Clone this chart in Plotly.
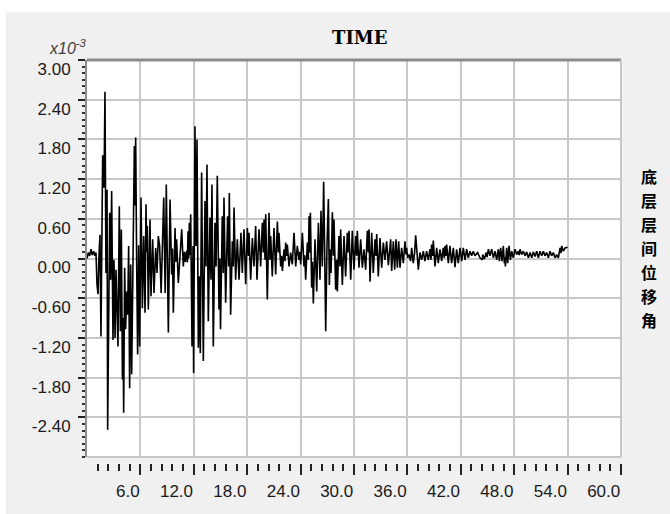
import plotly.graph_objects as go

# ---- data (time in s, inter-storey drift angle in units of 1e-3) ----
time_s = [
    0.00, 0.15, 0.30, 0.45, 0.60, 0.75, 0.90, 1.01, 1.12, 1.24, 1.35, 1.46, 1.57, 1.69, 1.76, 1.91, 2.02, 2.13, 2.25, 2.32,
    2.43, 2.55, 2.66, 2.77, 2.92, 3.03, 3.15, 3.26, 3.48, 3.63, 3.75, 3.86, 3.98, 4.04, 4.12, 4.23, 4.34, 4.46, 4.57, 4.68,
    4.79, 4.91, 5.02, 5.17, 5.32, 5.39, 5.47, 5.58, 5.69, 5.80, 5.92, 6.07, 6.22, 6.37, 6.52, 6.63, 6.70, 6.78, 6.89, 7.08,
    7.19, 7.38, 7.53, 7.72, 7.87, 8.01, 8.16, 8.33, 8.62, 8.78, 8.91, 9.14, 9.33, 9.51, 9.60, 9.70, 9.89, 9.98, 10.07, 10.26,
    10.64, 10.82, 10.95, 11.05, 11.20, 11.28, 11.35, 11.43, 11.50, 11.58, 11.65, 11.80, 11.91, 11.98, 12.13, 12.25, 12.36, 12.51, 12.62, 12.73,
    12.88, 13.07, 13.26, 13.37, 13.48, 13.63, 13.82, 13.93, 14.04, 14.19, 14.38, 14.50, 14.64, 14.83, 14.92, 15.00, 15.20, 15.32, 15.39, 15.58,
    15.80, 15.92, 15.99, 16.14, 16.33, 16.44, 16.52, 16.70, 16.89, 17.08, 17.30, 17.45, 17.64, 17.83, 18.02, 18.13, 18.20, 18.39, 18.58, 18.76,
    18.95, 19.10, 19.33, 19.51, 19.70, 19.81, 19.89, 20.00, 20.08, 20.26, 20.45, 20.56, 20.64, 20.82, 21.01, 21.20, 21.39, 21.50, 21.57, 21.76,
    21.87, 21.95, 22.14, 22.25, 22.32, 22.43, 22.51, 22.70, 22.88, 23.07, 23.26, 23.45, 23.63, 23.82, 23.92, 24.01, 24.20, 24.38, 24.47, 24.57,
    24.76, 24.87, 24.95, 25.02, 25.10, 25.24, 25.33, 25.43, 25.62, 25.81, 26.00, 26.18, 26.29, 26.44, 26.59, 26.70, 26.82, 26.97, 27.12, 27.23,
    27.34, 27.42, 27.57, 27.68, 27.75, 27.94, 28.05, 28.13, 28.31, 28.43, 28.50, 28.69, 28.88, 29.06, 29.25, 29.33, 29.44, 29.63, 29.81, 30.00,
    30.19, 30.30, 30.37, 30.56, 30.75, 30.94, 31.12, 31.31, 31.50, 31.61, 31.69, 31.80, 31.99, 32.17, 32.36, 32.47, 32.55, 32.73, 32.92, 33.11,
    33.30, 33.48, 33.67, 33.86, 34.12, 34.23, 34.42, 34.57, 34.72, 34.87, 35.02, 35.17, 35.35, 35.54, 35.73, 35.84, 35.91, 36.03, 36.18, 36.36,
    36.48, 36.66, 36.81, 36.93, 37.08, 37.23, 37.41, 37.60, 37.79, 37.97, 38.16, 38.35, 38.54, 38.65, 38.72, 38.84, 38.91, 39.10, 39.29, 39.47,
    39.66, 39.85, 40.03, 40.15, 40.22, 40.33, 40.41, 40.60, 40.78, 40.97, 41.16, 41.35, 41.53, 41.72, 41.91, 42.10, 42.28, 42.47, 42.66, 42.84,
    43.03, 43.22, 43.41, 43.59, 43.89, 44.15, 44.42, 44.46, 44.65, 44.85, 44.95, 45.10, 45.28, 45.47, 45.66, 45.85, 46.03, 46.22, 46.33, 46.48,
    46.63, 46.78, 46.89, 46.95, 47.01, 47.16, 47.27, 47.42, 47.57, 47.72, 47.90, 48.09, 48.28, 48.47, 48.56, 48.65, 48.84, 49.03, 49.22, 49.40,
    49.59, 49.78, 49.97, 50.15, 50.34, 50.53, 50.71, 50.90, 51.09, 51.28, 51.46, 51.65, 51.84, 52.03, 52.21, 52.40, 52.59, 52.77, 52.96, 53.15,
    53.25, 53.34, 53.52, 53.71, 54.00,
]
drift = [
    0.00, 0.09, 0.04, 0.14, 0.05, 0.11, 0.04, 0.09, -0.39, -0.54, 0.06, 0.36, -1.18, 0.09, 1.56, 1.07, 2.52, -0.22, 1.04, -2.59,
    -0.32, 0.69, -0.32, 1.02, -1.23, -0.02, -1.20, -0.17, -1.33, 0.79, -1.10, 0.44, -1.83, -0.90, -2.33, -0.14, -1.07, -0.50, -0.85, 0.19,
    -1.96, -0.09, -1.75, -0.09, 1.70, 0.80, 1.83, -0.07, -1.45, 0.20, -1.33, 0.92, -0.75, 0.34, -0.82, 0.82, 0.10, 0.49, -0.77, 0.59,
    -0.57, 0.29, -0.52, 0.16, -0.22, 0.34, 0.19, -0.52, 0.92, -0.52, 1.12, -1.12, 0.89, -0.24, 0.15, -0.82, 0.46, -0.05, 0.29, -0.37,
    0.44, -0.12, 0.10, -0.05, 0.12, -0.06, 0.41, 0.00, 0.54, 0.05, 0.67, -1.33, 0.19, -1.73, 2.00, 0.19, 1.80, -1.35, -0.27, -1.43,
    1.30, -1.55, 0.87, -0.12, 1.42, -0.95, 0.62, -0.32, 1.12, -1.33, 0.54, -0.12, 1.25, -0.77, 0.00, -1.07, 0.64, -0.22, 0.92, -0.67,
    0.64, -0.12, 0.99, -0.85, 0.26, -0.12, 0.77, -0.32, 0.29, -0.32, 0.39, -0.22, 0.44, -0.39, 0.46, 0.04, 0.39, -0.32, 0.31, -0.12,
    0.49, -0.32, 0.44, -0.12, 0.54, 0.09, 0.59, -0.02, 0.67, -0.62, 0.69, -0.02, 0.34, -0.27, 0.46, -0.24, 0.56, 0.09, 0.39, -0.12,
    0.04, -0.19, 0.14, -0.04, 0.24, 0.04, 0.21, -0.12, 0.09, -0.09, 0.39, -0.12, 0.19, -0.02, 0.10, -0.09, 0.39, -0.12, 0.05, -0.32,
    0.24, -0.02, 0.64, 0.09, 0.69, -0.44, -0.05, -0.68, 0.29, -0.50, 0.54, -0.32, 0.72, -0.12, 1.16, 0.14, -1.10, 0.21, 0.90, -0.40,
    0.14, -0.22, 0.70, 0.04, 0.59, -0.47, -0.02, -0.50, 0.34, -0.12, 0.44, -0.40, 0.34, -0.27, 0.39, 0.09, 0.42, -0.32, 0.42, -0.17,
    0.34, 0.04, 0.42, -0.14, 0.29, -0.14, 0.14, -0.17, 0.42, 0.09, 0.44, -0.35, 0.39, -0.22, 0.29, 0.04, 0.37, -0.27, 0.31, -0.14,
    0.24, -0.02, 0.26, -0.10, 0.29, -0.19, 0.26, -0.17, 0.29, -0.14, 0.26, -0.14, 0.16, -0.07, 0.26, 0.06, 0.16, 0.01, 0.06, -0.04,
    0.16, -0.07, 0.09, 0.35, 0.04, -0.17, 0.09, -0.02, 0.11, -0.04, 0.11, -0.02, 0.14, -0.02, 0.21, 0.04, 0.27, -0.12, 0.16, -0.07,
    0.14, -0.04, 0.16, 0.01, 0.19, 0.04, 0.21, -0.07, 0.19, -0.07, 0.16, -0.13, 0.14, -0.07, 0.16, -0.04, 0.16, -0.02, 0.14, 0.01,
    0.11, 0.04, 0.11, 0.04, 0.09, 0.01, -0.02, 0.06, -0.01, 0.09, 0.02, 0.14, 0.04, 0.14, 0.01, 0.11, -0.02, 0.14, -0.04, 0.16,
    -0.04, 0.19, -0.07, 0.02, -0.12, 0.16, -0.07, 0.19, -0.02, 0.11, 0.01, 0.14, 0.06, 0.11, 0.05, 0.14, 0.06, 0.11, 0.04, 0.10,
    0.01, 0.09, 0.01, 0.10, 0.03, 0.11, 0.01, 0.11, 0.04, 0.11, 0.04, 0.09, 0.01, 0.11, 0.04, 0.09, 0.01, 0.06, 0.01, 0.16,
    0.08, 0.19, 0.11, 0.16, 0.17,
]

x_major = [6, 12, 18, 24, 30, 36, 42, 48, 54, 60]
x_labels = ["6.0", "12.0", "18.0", "24.0", "30.0", "36.0", "42.0", "48.0", "54.0", "60.0"]
x_minor = [1.2, 2.4, 3.6, 4.8, 7.2, 8.4, 9.6, 10.8, 13.2, 14.4, 15.6, 16.8, 19.2, 20.4, 21.6, 22.8,
           25.2, 26.4, 27.6, 28.8, 31.2, 32.4, 33.6, 34.8, 37.2, 38.4, 39.6, 40.8, 43.2, 44.4, 45.6, 46.8,
           49.2, 50.4, 51.6, 52.8, 55.2, 56.4, 57.6, 58.8]
y_major = [-2.4, -1.8, -1.2, -0.6, 0.0, 0.6, 1.2, 1.8, 2.4, 3.0]
y_labels = ["-2.40", "-1.80", "-1.20", "-0.60", "0.00", "0.60", "1.20", "1.80", "2.40", "3.00"]

title_text = "TIME"
exp_text = "<i>x10<sup>-3</sup></i>"
side_label = "底层层间位移角"

fig = go.Figure(go.Scatter(x=time_s, y=drift, mode="lines",
                           line=dict(color="black", width=1.6), hoverinfo="skip"))

tick_font = dict(family="Liberation Sans, Arial, sans-serif", size=17, color="#1a1a1a")
GRID = "#c8c8c8"
PLOT_H = 403.0  # paper height in px (for placing page texts)

annotations = [
    dict(text=title_text, xref="paper", yref="paper", x=0.511, y=1.057,
         showarrow=False, xanchor="center", yanchor="middle",
         font=dict(family="DejaVu Serif", size=18, color="black", weight="bold")),
    dict(text=exp_text, xref="paper", yref="paper", x=0.004, y=1.032,
         showarrow=False, xanchor="right", yanchor="middle",
         font=dict(family="Liberation Sans, Arial", size=16, color="#404040")),
]
# vertical side label: one character per row
for i, ch in enumerate(side_label):
    py = 176 + i * 24.0
    annotations.append(dict(text=ch, xref="paper", yref="paper", x=1.052, y=(463 - py) / PLOT_H,
                            showarrow=False, xanchor="center", yanchor="middle",
                            font=dict(family="Noto Sans CJK SC", size=16, color="black", weight="bold")))

fig.update_layout(
    width=670, height=514,
    margin=dict(l=87, r=49, t=60, b=51),
    paper_bgcolor="#f0f0f0",
    plot_bgcolor="white",
    showlegend=False,
    xaxis=dict(
        range=[0, 60], anchor="free", position=0,
        tickmode="array", tickvals=x_major, ticktext=x_labels,
        ticks="outside", ticklen=11, tickwidth=1.5, tickcolor="#222",
        ticklabelposition="outside left", ticklabelstandoff=13,
        tickfont=tick_font,
        showgrid=True, gridcolor=GRID, gridwidth=2,
        showline=False, zeroline=False,
        minor=dict(tickvals=x_minor, ticks="outside", ticklen=7, tickwidth=1.5,
                   tickcolor="#222", showgrid=False),
    ),
    yaxis=dict(
        range=[-3, 3], domain=[6 / 403, 1],
        tickmode="array", tickvals=y_major, ticktext=y_labels,
        ticks="outside", ticklen=7, tickwidth=2, tickcolor="#222",
        ticklabelshift=9, ticklabelstandoff=4,
        tickfont=tick_font,
        showgrid=True, gridcolor=GRID, gridwidth=2,
        showline=True, linecolor="#8c8c8c", linewidth=2,
        zeroline=False,
        minor=dict(dtick=0.1, ticks="outside", ticklen=3, tickwidth=2,
                   tickcolor="#333", showgrid=False),
    ),
    shapes=[
        dict(type="rect", xref="paper", yref="paper", x0=-0.3, x1=1.3, y0=1.119, y1=1.4,
             fillcolor="white", line=dict(width=0), layer="below"),
        dict(type="rect", xref="paper", yref="paper", x0=-0.3, x1=-0.1517, y0=-0.4, y1=1.4,
             fillcolor="white", line=dict(width=0), layer="below"),
        dict(type="line", xref="x domain", yref="y domain", x0=0, x1=1, y0=1, y1=1,
             line=dict(color="#8c8c8c", width=3)),
        dict(type="line", xref="x domain", yref="y domain", x0=1, x1=1, y0=0, y1=1,
             line=dict(color=GRID, width=2)),
        dict(type="line", xref="x domain", yref="y domain", x0=0, x1=1, y0=0, y1=0,
             line=dict(color=GRID, width=2)),
    ],
    annotations=annotations,
)

fig.write_html("out.html")
